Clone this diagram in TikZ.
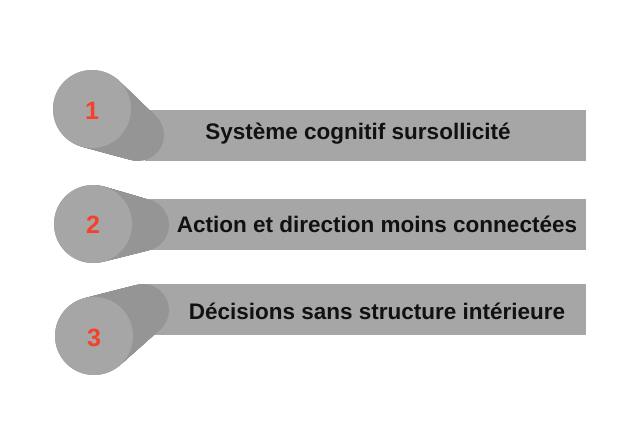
\documentclass[tikz,border=0pt]{standalone}
\usepackage{fontspec}
\setmainfont{Liberation Sans}
\definecolor{barcol}{HTML}{A6A6A6}
\definecolor{darkcol}{HTML}{959595}
\definecolor{numcol}{HTML}{F5402A}
\definecolor{txtcol}{HTML}{111111}
\begin{document}
\begin{tikzpicture}[x=1pt,y=-1pt,
  bar/.style={fill=barcol,draw=none},
  frontc/.style={fill=barcol,draw=none},
  cyl/.style={fill=darkcol,draw=none},
  num/.style={text=numcol,font=\bfseries\fontsize{25}{25}\selectfont},
  lab/.style={text=txtcol,font=\bfseries\fontsize{22.5}{24}\selectfont}]
\useasboundingbox[fill=white] (0,0) rectangle (640,424);
% row data: front x,y ; back x,y ; bar top ; bar bottom
\foreach \fx/\fy/\bx/\by/\bt/\bb/\n in {92/109/138/135/110/161/1, 93/224/143/225/199/250/2, 94/336/143/310/284/335/3}{
  \fill[bar] (145,\bt) rectangle (586,\bb);
  \foreach \k in {0,...,60}{
    \pgfmathsetmacro{\t}{\k/60}
    \fill[cyl] ({\fx+(\bx-\fx)*\t},{\fy+(\by-\fy)*\t}) circle ({39+(26-39)*\t});
  }
  \fill[frontc] (\fx,\fy) circle (39);
}
\node[num] (n1) at (92,111) {1};
\node[num] (n2) at (93,225) {2};
\node[num] (n3) at (94,338) {3};
\node[lab] (t1) at (358,134) {Système cognitif sursollicité};
\node[lab] (t2) at (377,224) {Action et direction moins connectées};
\node[lab] (t3) at (377,311) {Décisions sans structure intérieure};
\end{tikzpicture}
\end{document}
